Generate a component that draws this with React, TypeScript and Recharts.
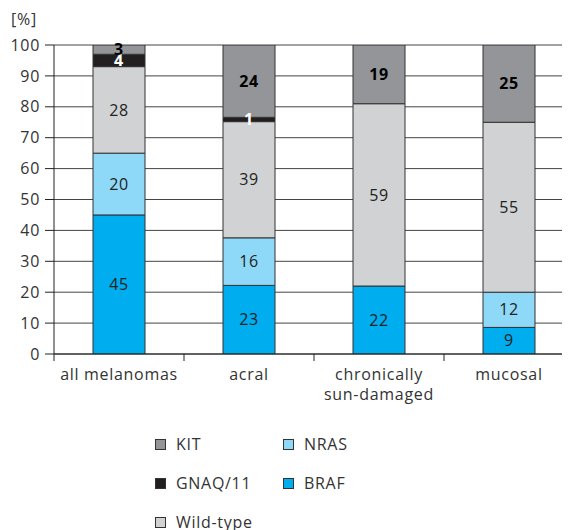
import React from 'react';
import { BarChart, Bar, XAxis, YAxis, CartesianGrid, Legend, LabelList } from 'recharts';

const categories = ['all melanomas', 'acral', 'chronically\nsun-damaged', 'mucosal'];
// segment heights as drawn
const brafValues = [45, 22.2, 22, 8.6];
const nrasValues = [20, 15.4, 0, 11.4];
const wildValues = [28, 37.6, 59, 55];
const gnaqValues = [4, 1.4, 0, 0];
const kitValues = [3, 23.4, 19, 25];
// printed labels
const brafLabels = ['45', '23', '22', '9'];
const nrasLabels = ['20', '16', undefined, '12'];
const wildLabels = ['28', '39', '59', '55'];
const gnaqLabels = ['4', '1', undefined, undefined];
const kitLabels = ['3', '24', '19', '25'];
const yTicks = [0, 10, 20, 30, 40, 50, 60, 70, 80, 90, 100];

const COLORS = {
  BRAF: '#00adef',
  NRAS: '#8ed8f8',
  Wild: '#d1d2d4',
  GNAQ: '#231f20',
  KIT: '#939598',
};

const legendRows: { name: string; color: string }[][] = [
  [{ name: 'KIT', color: COLORS.KIT }, { name: 'NRAS', color: COLORS.NRAS }],
  [{ name: 'GNAQ/11', color: COLORS.GNAQ }, { name: 'BRAF', color: COLORS.BRAF }],
  [{ name: 'Wild-type', color: COLORS.Wild }],
];

const data = categories.map((name, i) => ({
  name,
  braf: brafValues[i],
  nras: nrasValues[i],
  wild: wildValues[i],
  gnaq: gnaqValues[i],
  kit: kitValues[i],
  brafL: brafLabels[i],
  nrasL: nrasLabels[i],
  wildL: wildLabels[i],
  gnaqL: gnaqLabels[i],
  kitL: kitLabels[i],
}));

const TEXT = '#333';
const TICK_LEN = 7;

const CatTick = (props: any) => {
  const { x, y, payload, index } = props;
  const half = payload && payload.offset ? payload.offset : 65;
  const lines = String(payload.value).split('\n');
  return (
    <g>
      {index === 0 && (
        <line x1={x - half} x2={x - half} y1={y} y2={y + TICK_LEN} stroke="#222" strokeWidth={1} />
      )}
      <line x1={x + half} x2={x + half} y1={y} y2={y + TICK_LEN} stroke="#222" strokeWidth={1} />
      <text x={x} y={y} textAnchor="middle" fill={TEXT} fontSize={16}>
        {lines.map((l, i) => (
          <tspan key={i} x={x} dy={i === 0 ? 26 : 20}>
            {l}
          </tspan>
        ))}
      </text>
    </g>
  );
};

const LegendContent = () => (
  <div style={{ fontSize: 16, color: TEXT }}>
    {legendRows.map((row, r) => (
      <div key={r} style={{ display: 'flex', height: 20, marginBottom: 19, alignItems: 'center' }}>
        {row.map((item) => (
          <div key={item.name} style={{ display: 'flex', alignItems: 'center', width: 128 }}>
            <span
              style={{
                display: 'inline-block',
                width: 9,
                height: 9,
                background: item.color,
                border: '1px solid #333',
                marginRight: 10,
              }}
            />
            <span>{item.name}</span>
          </div>
        ))}
      </div>
    ))}
  </div>
);

export default function App() {
  return (
    <div
      style={{
        width: 562,
        height: 522,
        overflow: 'hidden',
        position: 'relative',
        fontFamily: '"Open Sans", sans-serif',
        letterSpacing: 0.7,
      }}
    >
      <BarChart
        width={566}
        height={522}
        data={data}
        margin={{ top: 37, right: 0, left: 0, bottom: 116 }}
        barCategoryGap="30%"
      >
        <CartesianGrid vertical={false} stroke="#444" strokeWidth={1} />
        <XAxis
          dataKey="name"
          type="category"
          interval={0}
          tickLine={false}
          tickSize={0}
          tickMargin={0}
          axisLine={{ stroke: '#222' }}
          tick={<CatTick />}
          height={60}
        />
        <YAxis
          type="number"
          domain={[0, 100]}
          allowDataOverflow
          ticks={yTicks}
          interval={0}
          width={46}
          tickSize={9}
          tickMargin={5}
          axisLine={{ stroke: '#222' }}
          tickLine={{ stroke: '#222' }}
          tick={{ fill: TEXT, fontSize: 16 }}
          label={{
            content: (p: any) => (
              <text x={p.viewBox.x + 16} y={p.viewBox.y - 20} textAnchor="middle" fill={TEXT} fontSize={16}>
                [%]
              </text>
            ),
          }}
        />
        <Legend
          layout="vertical"
          align="center"
          verticalAlign="middle"
          wrapperStyle={{ top: 426, left: 147, width: 320 }}
          content={<LegendContent />}
        />
        <Bar dataKey="braf" stackId="a" fill={COLORS.BRAF} stroke="#333" strokeWidth={1} isAnimationActive={false}>
          <LabelList dataKey="brafL" position="center" fill="#222" fontSize={16} />
        </Bar>
        <Bar dataKey="nras" stackId="a" fill={COLORS.NRAS} stroke="#333" strokeWidth={1} isAnimationActive={false}>
          <LabelList dataKey="nrasL" position="center" fill="#222" fontSize={16} />
        </Bar>
        <Bar dataKey="wild" stackId="a" fill={COLORS.Wild} stroke="#333" strokeWidth={1} isAnimationActive={false}>
          <LabelList dataKey="wildL" position="center" fill="#222" fontSize={16} />
        </Bar>
        <Bar dataKey="gnaq" stackId="a" fill={COLORS.GNAQ} stroke="#333" strokeWidth={1} isAnimationActive={false}>
          <LabelList dataKey="gnaqL" position="center" fill="#fff" fontSize={16} fontWeight="bold" />
        </Bar>
        <Bar dataKey="kit" stackId="a" fill={COLORS.KIT} stroke="#333" strokeWidth={1} isAnimationActive={false}>
          <LabelList dataKey="kitL" position="center" fill="#000" fontSize={16} fontWeight="bold" />
        </Bar>
      </BarChart>
    </div>
  );
}
